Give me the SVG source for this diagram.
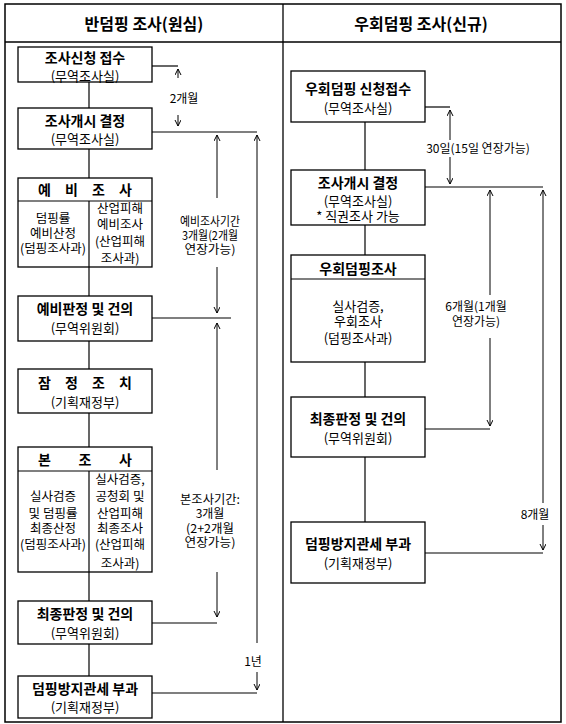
<svg xmlns="http://www.w3.org/2000/svg" width="566" height="724" viewBox="0 0 566 724">
<style>
text{font-family:"Noto Sans CJK KR","Noto Sans",sans-serif;fill:#000;dominant-baseline:central;text-anchor:middle}
.h{font-size:16px;font-weight:bold}
.t{font-size:14px;font-weight:bold}
.s{font-size:13px}
.c{font-size:12.5px}
.l{font-size:12px}
.box{fill:#fff;stroke:#000;stroke-width:1.3}
.ln{stroke:#000;stroke-width:1.2;fill:none}
.ar{stroke:#000;stroke-width:1;fill:none}
</style>
<defs>
<marker id="a" markerUnits="userSpaceOnUse" markerWidth="10" markerHeight="10" refX="6" refY="3" orient="auto">
<path d="M0,0 L6,3 L0,6" fill="none" stroke="#000" stroke-width="1"/>
</marker>
</defs>
<rect x="0" y="0" width="566" height="724" fill="#fff"/>
<g id="frame">
<rect x="5" y="4" width="556" height="718" fill="none" stroke="#000" stroke-width="1.5"/>
<line x1="5" y1="42" x2="561" y2="42" stroke="#000" stroke-width="1.3"/>
<line x1="283" y1="4" x2="283" y2="722" stroke="#000" stroke-width="1.3"/>
<text class="h" x="144" y="23">반덤핑 조사(원심)</text>
<text class="h" x="421" y="23">우회덤핑 조사(신규)</text>
</g>
<g id="connectors">
<line class="ln" x1="89" y1="82" x2="89" y2="108"/>
<line class="ln" x1="89" y1="149" x2="89" y2="178"/>
<line class="ln" x1="89" y1="267" x2="89" y2="296"/>
<line class="ln" x1="89" y1="341" x2="89" y2="369"/>
<line class="ln" x1="89" y1="413" x2="89" y2="447"/>
<line class="ln" x1="89" y1="572" x2="89" y2="601"/>
<line class="ln" x1="89" y1="644" x2="89" y2="676"/>
<line class="ln" x1="152" y1="66" x2="178" y2="66"/>
<line class="ln" x1="152" y1="132" x2="257" y2="132"/>
<line class="ln" x1="152" y1="318" x2="231" y2="318"/>
<line class="ln" x1="152" y1="623" x2="217" y2="623"/>
<line class="ln" x1="152" y1="693" x2="257" y2="693"/>
<line class="ar" x1="178" y1="78" x2="178" y2="69" marker-end="url(#a)"/>
<line class="ar" x1="178" y1="115" x2="178" y2="126" marker-end="url(#a)"/>
<line class="ar" x1="217" y1="198" x2="217" y2="135" marker-end="url(#a)"/>
<line class="ar" x1="217" y1="267" x2="217" y2="313" marker-end="url(#a)"/>
<line class="ar" x1="217" y1="470" x2="217" y2="323" marker-end="url(#a)"/>
<line class="ar" x1="217" y1="572" x2="217" y2="617" marker-end="url(#a)"/>
<line class="ar" x1="257" y1="643" x2="257" y2="135" marker-end="url(#a)"/>
<line class="ar" x1="257" y1="672" x2="257" y2="690" marker-end="url(#a)"/>
<line class="ln" x1="365" y1="122" x2="365" y2="170"/>
<line class="ln" x1="365" y1="225" x2="365" y2="255"/>
<line class="ln" x1="365" y1="362" x2="365" y2="397"/>
<line class="ln" x1="365" y1="457" x2="365" y2="522"/>
<line class="ln" x1="425" y1="107" x2="450" y2="107"/>
<line class="ln" x1="425" y1="187" x2="543" y2="187"/>
<line class="ln" x1="425" y1="429" x2="490" y2="429"/>
<line class="ln" x1="425" y1="553" x2="543" y2="553"/>
<line class="ar" x1="450" y1="140" x2="450" y2="110" marker-end="url(#a)"/>
<line class="ar" x1="450" y1="157" x2="450" y2="184" marker-end="url(#a)"/>
<line class="ar" x1="490" y1="295" x2="490" y2="190" marker-end="url(#a)"/>
<line class="ar" x1="490" y1="338" x2="490" y2="426" marker-end="url(#a)"/>
<line class="ar" x1="543" y1="503" x2="543" y2="190" marker-end="url(#a)"/>
<line class="ar" x1="543" y1="525" x2="543" y2="550" marker-end="url(#a)"/>
</g>
<g id="labels">
<text class="l" x="184" y="97">2개월</text>
<text class="l"><tspan x="210" y="220" textLength="60" lengthAdjust="spacingAndGlyphs">예비조사기간</tspan><tspan x="210" y="234" textLength="56" lengthAdjust="spacingAndGlyphs">3개월(2개월</tspan><tspan x="210" y="248" textLength="51" lengthAdjust="spacingAndGlyphs">연장가능)</tspan></text>
<text class="l"><tspan x="210" y="498" textLength="60" lengthAdjust="spacingAndGlyphs">본조사기간:</tspan><tspan x="210" y="512">3개월</tspan><tspan x="210" y="527" textLength="48" lengthAdjust="spacingAndGlyphs">(2+2개월</tspan><tspan x="210" y="541" textLength="51" lengthAdjust="spacingAndGlyphs">연장가능)</tspan></text>
<text class="l" x="253" y="660">1년</text>
<text class="l" x="478" y="147">30일(15일 연장가능)</text>
<text class="l"><tspan x="476" y="305">6개월(1개월</tspan><tspan x="476" y="320">연장가능)</tspan></text>
<text class="l" x="535" y="513">8개월</text>
</g>
<g id="n1">
<rect class="box" x="18" y="47" width="134" height="35"/>
<text class="t" x="85" y="57">조사신청 접수</text>
<text class="s" x="85" y="75">(무역조사실)</text>
</g>
<g id="n2">
<rect class="box" x="18" y="108" width="134" height="41"/>
<text class="t" x="85" y="120">조사개시 결정</text>
<text class="s" x="85" y="138">(무역조사실)</text>
</g>
<g id="n3">
<rect class="box" x="18" y="178" width="134" height="89"/>
<line class="ln" x1="18" y1="201" x2="152" y2="201"/>
<line class="ln" x1="89" y1="201" x2="89" y2="267"/>
<text class="t" x="85" y="189" textLength="94" lengthAdjust="spacing">예비조사</text>
<text class="c"><tspan x="53" y="217">덤핑률</tspan><tspan x="53" y="232">예비산정</tspan><tspan x="53" y="247">(덤핑조사과)</tspan></text>
<text class="c"><tspan x="120" y="207">산업피해</tspan><tspan x="120" y="223">예비조사</tspan><tspan x="120" y="240">(산업피해</tspan><tspan x="120" y="257">조사과)</tspan></text>
</g>
<g id="n4">
<rect class="box" x="18" y="296" width="134" height="45"/>
<text class="t" x="85" y="308">예비판정 및 건의</text>
<text class="s" x="85" y="327">(무역위원회)</text>
</g>
<g id="n5">
<rect class="box" x="18" y="369" width="134" height="44"/>
<text class="t" x="85" y="382" textLength="94" lengthAdjust="spacing">잠정조치</text>
<text class="s" x="85" y="401">(기획재정부)</text>
</g>
<g id="n6">
<rect class="box" x="18" y="447" width="134" height="125"/>
<line class="ln" x1="18" y1="471" x2="152" y2="471"/>
<line class="ln" x1="89" y1="471" x2="89" y2="572"/>
<text class="t" x="85" y="459" textLength="94" lengthAdjust="spacing">본조사</text>
<text class="c"><tspan x="53" y="495">실사검증</tspan><tspan x="53" y="512">및 덤핑률</tspan><tspan x="53" y="527">최종산정</tspan><tspan x="53" y="543">(덤핑조사과)</tspan></text>
<text class="c"><tspan x="120" y="478">실사검증,</tspan><tspan x="120" y="495">공청회 및</tspan><tspan x="120" y="512">산업피해</tspan><tspan x="120" y="527">최종조사</tspan><tspan x="120" y="543">(산업피해</tspan><tspan x="120" y="562">조사과)</tspan></text>
</g>
<g id="n7">
<rect class="box" x="18" y="601" width="134" height="43"/>
<text class="t" x="85" y="613">최종판정 및 건의</text>
<text class="s" x="85" y="632">(무역위원회)</text>
</g>
<g id="n8">
<rect class="box" x="18" y="676" width="134" height="42"/>
<text class="t" x="85" y="688">덤핑방지관세 부과</text>
<text class="s" x="85" y="706">(기획재정부)</text>
</g>
<g id="r1">
<rect class="box" x="291" y="71" width="134" height="51"/>
<text class="t" x="358" y="88">우회덤핑 신청접수</text>
<text class="s" x="358" y="107">(무역조사실)</text>
</g>
<g id="r2">
<rect class="box" x="291" y="170" width="134" height="55"/>
<text class="t" x="358" y="182">조사개시 결정</text>
<text class="s"><tspan x="358" y="200">(무역조사실)</tspan><tspan x="358" y="215">* 직권조사 가능</tspan></text>
</g>
<g id="r3">
<rect class="box" x="291" y="255" width="134" height="107"/>
<line class="ln" x1="291" y1="279" x2="425" y2="279"/>
<text class="t" x="358" y="268">우회덤핑조사</text>
<text class="s"><tspan x="358" y="305">실사검증,</tspan><tspan x="358" y="320">우회조사</tspan><tspan x="358" y="337">(덤핑조사과)</tspan></text>
</g>
<g id="r4">
<rect class="box" x="291" y="397" width="134" height="60"/>
<text class="t" x="358" y="418">최종판정 및 건의</text>
<text class="s" x="358" y="437">(무역위원회)</text>
</g>
<g id="r5">
<rect class="box" x="291" y="522" width="134" height="61"/>
<text class="t" x="358" y="543">덤핑방지관세 부과</text>
<text class="s" x="358" y="562">(기획재정부)</text>
</g>
</svg>
